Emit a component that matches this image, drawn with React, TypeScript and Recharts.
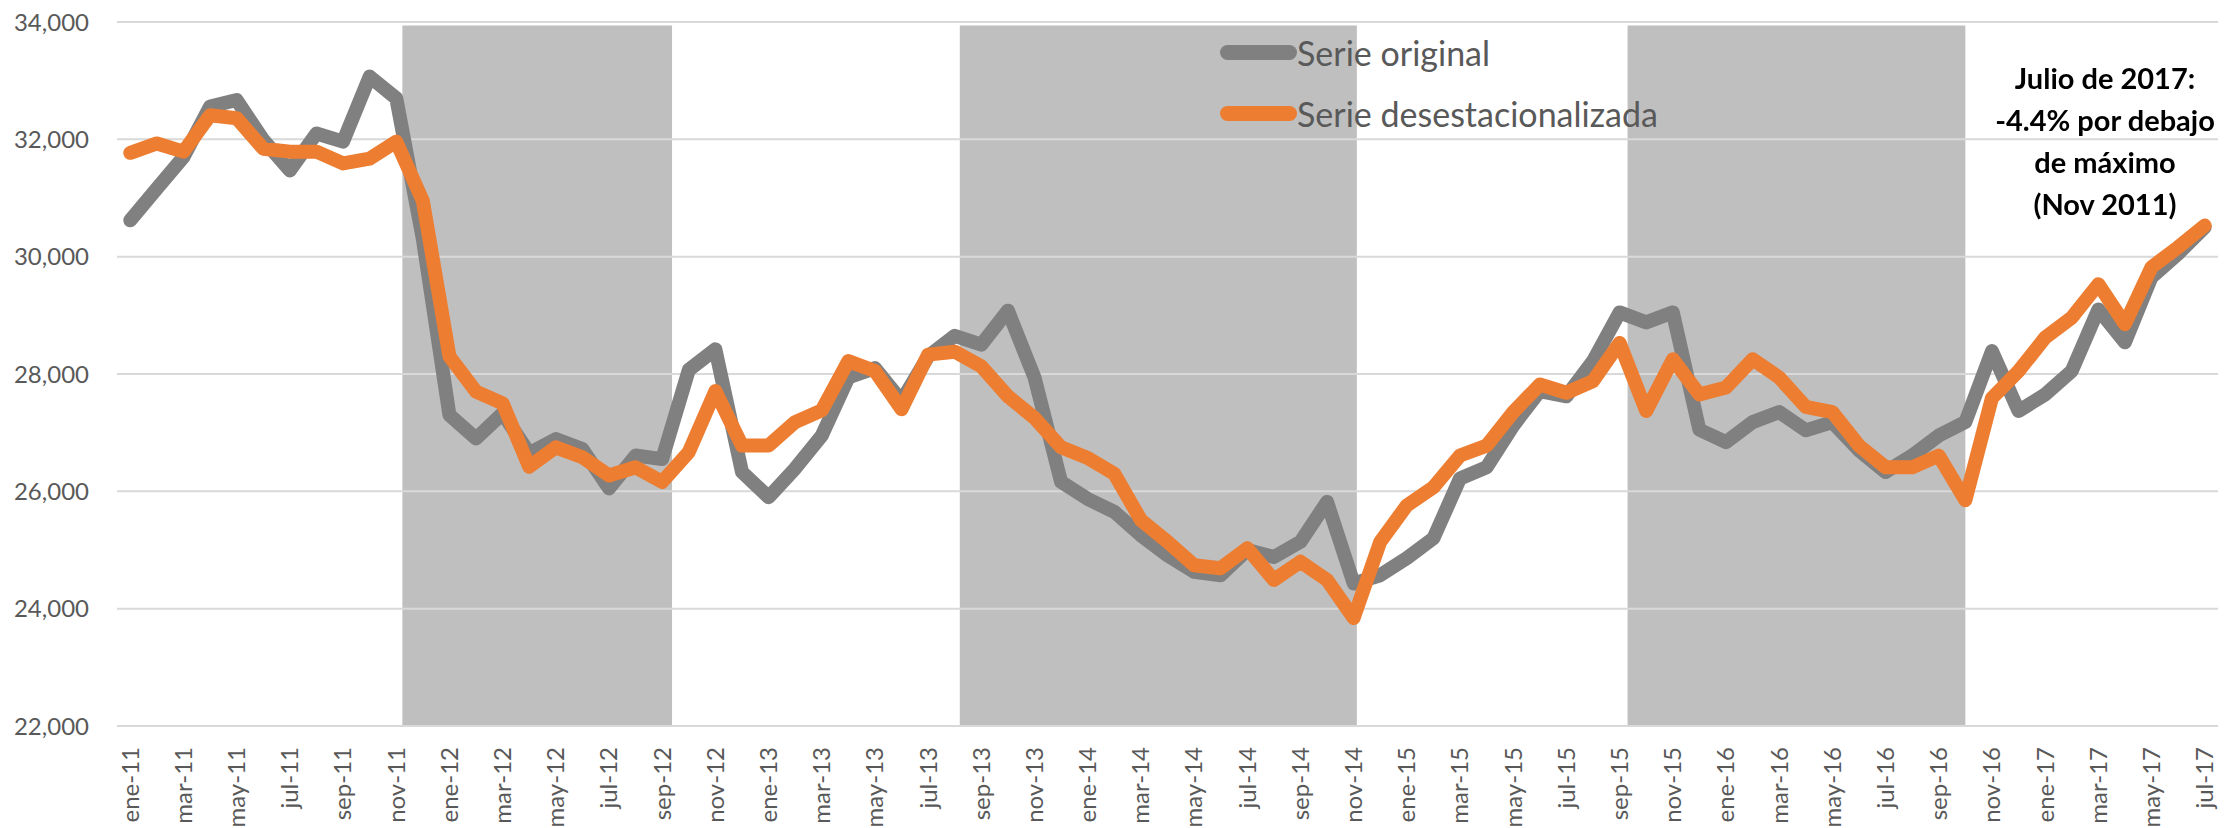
import { LineChart, Line, XAxis, YAxis, ReferenceArea, ReferenceLine } from "recharts";

const GRAY = "#808080";
const ORANGE = "#ED7D31";
const SHADE = "#BFBFBF";
const GRID = "#D9D9D9";
const TEXT = "#595959";
const FONT = "Lato, 'Open Sans', sans-serif";

const months = [
  "ene-11", "feb-11", "mar-11", "abr-11", "may-11", "jun-11", "jul-11", "ago-11", "sep-11", "oct-11", "nov-11", "dic-11",
  "ene-12", "feb-12", "mar-12", "abr-12", "may-12", "jun-12", "jul-12", "ago-12", "sep-12", "oct-12", "nov-12", "dic-12",
  "ene-13", "feb-13", "mar-13", "abr-13", "may-13", "jun-13", "jul-13", "ago-13", "sep-13", "oct-13", "nov-13", "dic-13",
  "ene-14", "feb-14", "mar-14", "abr-14", "may-14", "jun-14", "jul-14", "ago-14", "sep-14", "oct-14", "nov-14", "dic-14",
  "ene-15", "feb-15", "mar-15", "abr-15", "may-15", "jun-15", "jul-15", "ago-15", "sep-15", "oct-15", "nov-15", "dic-15",
  "ene-16", "feb-16", "mar-16", "abr-16", "may-16", "jun-16", "jul-16", "ago-16", "sep-16", "oct-16", "nov-16", "dic-16",
  "ene-17", "feb-17", "mar-17", "abr-17", "may-17", "jun-17", "jul-17",
];

// serie original (sin ajuste)
const serieOriginal = [
  30620, 31160, 31700, 32560, 32670, 31990, 31470, 32100, 31960, 33070, 32700, 30300,
  27300, 26900, 27330, 26650, 26890, 26720, 26050, 26610, 26550, 28070, 28420, 26330,
  25900, 26390, 26950, 27940, 28100, 27540, 28300, 28650, 28500, 29080, 27940, 26160,
  25870, 25650, 25250, 24910, 24630, 24570, 25000, 24880, 25140, 25820, 24430, 24570,
  24860, 25200, 26220, 26410, 27120, 27710, 27620, 28220, 29050, 28880, 29050, 27050,
  26840, 27180, 27350, 27040, 27180, 26700, 26330, 26610, 26950, 27180, 28390, 27370,
  27650, 28050, 29100, 28540, 29650, 30050, 30500,
];

// serie desestacionalizada
const serieDesest = [
  31770, 31930, 31790, 32410, 32360, 31840, 31790, 31790, 31590, 31670, 31960, 30950,
  28300, 27700, 27500, 26420, 26750, 26580, 26270, 26410, 26160, 26670, 27710, 26780,
  26780, 27180, 27380, 28220, 28050, 27400, 28330, 28380, 28130, 27620, 27250, 26750,
  26570, 26300, 25510, 25140, 24740, 24690, 25030, 24490, 24800, 24490, 23840, 25140,
  25760, 26070, 26610, 26780, 27350, 27820, 27680, 27880, 28530, 27370, 28250, 27650,
  27770, 28250, 27940, 27440, 27350, 26780, 26410, 26410, 26610, 25850, 27590, 28050,
  28620, 28960, 29530, 28850, 29820, 30160, 30530,
];

// periodos sombreados (posición en meses desde ene-11)
const shadeFrom = [10.23, 31.19, 56.3];
const shadeTo = [20.37, 46.12, 69.0];

const yTicks = [22000, 24000, 26000, 28000, 30000, 32000, 34000];
const xTicks = months.map((_, i) => i).filter((i) => i % 2 === 0);

const legendItems = [
  { name: "Serie original", color: GRAY },
  { name: "Serie desestacionalizada", color: ORANGE },
];

const note = ["Julio de 2017:", "-4.4% por debajo", "de máximo", "(Nov 2011)"];

const data = months.map((m, i) => ({
  idx: i,
  mes: m,
  original: serieOriginal[i],
  desest: serieDesest[i],
}));

function MonthTick({ x, y, payload }: any) {
  const ty = y + 13;
  return (
    <text
      x={x}
      y={ty}
      transform={`rotate(-90, ${x}, ${ty})`}
      textAnchor="end"
      dy="0.35em"
      fill={TEXT}
      fontSize={24}
      fontFamily={FONT}
    >
      {months[payload.value]}
    </text>
  );
}

export default function App() {
  return (
    <div
      style={{
        position: "fixed",
        left: 0,
        top: 0,
        width: 2224,
        height: 828,
        background: "#fff",
      }}
    >
      <LineChart
        width={2224}
        height={828}
        data={data}
        margin={{ top: 22, right: 6, bottom: 0, left: 0 }}
      >
        <XAxis
          dataKey="idx"
          type="number"
          domain={[-0.5, 78.5]}
          ticks={xTicks}
          interval={0}
          axisLine={false}
          tickLine={false}
          height={102}
          tick={<MonthTick />}
        />
        <YAxis
          type="number"
          domain={[22000, 34000]}
          ticks={yTicks}
          width={117}
          axisLine={false}
          tickLine={false}
          tickMargin={22}
          tick={{ fill: TEXT, fontSize: 24, fontFamily: FONT }}
          tickFormatter={(v) => v.toLocaleString("en-US")}
        />
        {shadeFrom.map((f, i) => (
          <ReferenceArea
            key={"s" + i}
            x1={f}
            x2={shadeTo[i]}
            y1={22000}
            y2={33940}
            fill={SHADE}
            fillOpacity={1}
            stroke="none"
          />
        ))}
        {yTicks.map((t) => (
          <ReferenceLine key={"g" + t} y={t} stroke={GRID} strokeWidth={2} />
        ))}
        <Line
          type="linear"
          dataKey="original"
          name="Serie original"
          stroke={GRAY}
          strokeWidth={14}
          strokeLinecap="round"
          strokeLinejoin="round"
          dot={false}
          isAnimationActive={false}
        />
        <Line
          type="linear"
          dataKey="desest"
          name="Serie desestacionalizada"
          stroke={ORANGE}
          strokeWidth={14}
          strokeLinecap="round"
          strokeLinejoin="round"
          dot={false}
          isAnimationActive={false}
        />
      </LineChart>
      <div style={{ position: "absolute", left: 1220, top: 22 }}>
        {legendItems.map((it) => (
          <div key={it.name} style={{ display: "flex", alignItems: "center", height: 61 }}>
            <span
              style={{
                display: "inline-block",
                width: 77,
                height: 15,
                borderRadius: 8,
                background: it.color,
              }}
            />
            <span style={{ fontSize: 34, color: TEXT, fontFamily: FONT, lineHeight: 1 }}>{it.name}</span>
          </div>
        ))}
      </div>
      <div
        style={{
          position: "absolute",
          left: 1930,
          top: 57,
          width: 350,
          textAlign: "center",
          fontFamily: FONT,
          fontWeight: 700,
          fontSize: 29,
          lineHeight: "42px",
          color: "#000",
        }}
      >
        {note.map((l) => (
          <div key={l}>{l}</div>
        ))}
      </div>
    </div>
  );
}
